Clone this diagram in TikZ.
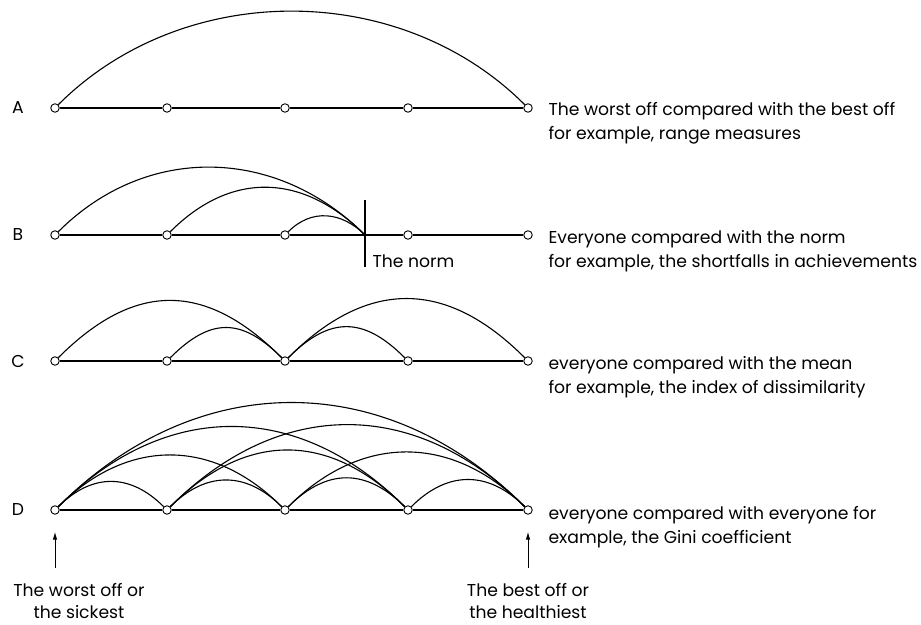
\documentclass[tikz,border=0pt]{standalone}
\usepackage{fontspec}
\setmainfont{Poppins}
\usetikzlibrary{arrows.meta}
\begin{document}
\begin{tikzpicture}[x=1pt, y=1pt, line width=1.1pt,
		pt/.style={circle, draw, fill=white, inner sep=0pt, minimum size=8.5pt, line width=0.9pt},
		hop/.style={out=45, in=135, looseness=#1},
		hop/.default=1.12,
		desc/.style={anchor=west, align=left, inner sep=0pt, font={\fontsize{17.2}{24}\selectfont}},
		tag/.style={inner sep=0pt, font={\fontsize{17.2}{22}\selectfont}},
		up/.style={-{Latex[length=8pt,width=4.5pt]}, line width=0.9pt, shorten >=17pt}]
	\useasboundingbox (0,0) rectangle (921,624);

	% A: worst off against best off
	\node[tag] (la) at (18,516) {A};
	\node[pt] (a1) at (55,516) {};
	\node[pt] (a2) at (167,516) {};
	\node[pt] (a3) at (285,516) {};
	\node[pt] (a4) at (408,516) {};
	\node[pt] (a5) at (528,516) {};
	\draw (a1) -- (a2) -- (a3) -- (a4) -- (a5);
	\draw (a1) to[hop=0.97] (a5);
	\node[desc] (ta) at (548,500.5) {The worst off compared with the best off\\for example, range measures};

	% B: everyone against the norm
	\node[tag] (lb) at (18,389) {B};
	\node[pt] (b1) at (55,389) {};
	\node[pt] (b2) at (167,389) {};
	\node[pt] (b3) at (285,389) {};
	\node[pt] (b4) at (408,389) {};
	\node[pt] (b5) at (528,389) {};
	\coordinate (norm) at (365,389);
	\coordinate (ntop) at (365,424);
	\coordinate (nbot) at (365,357);
	\draw (b1) -- (b2) -- (b3) -- (b4) -- (b5);
	\draw (ntop) -- (nbot);
	\draw (b1) to[hop=1.04] (norm);
	\draw (b2) to[hop=1.14] (norm);
	\draw (b3) to[hop=1.1] (norm);
	\node[tag, anchor=west] (tnorm) at (372,363) {The norm};
	\node[desc] (tb) at (548,372.5) {Everyone compared with the norm\\for example, the shortfalls in achievements};

	% C: everyone against the mean
	\node[tag] (lc) at (18,263) {C};
	\node[pt] (c1) at (55,263) {};
	\node[pt] (c2) at (167,263) {};
	\node[pt] (c3) at (285,263) {};
	\node[pt] (c4) at (408,263) {};
	\node[pt] (c5) at (528,263) {};
	\draw (c1) -- (c2) -- (c3) -- (c4) -- (c5);
	\draw (c1) to[hop=1.24] (c3);
	\draw (c2) to[hop=1.31] (c3);
	\draw (c3) to[hop=1.29] (c4);
	\draw (c3) to[hop=1.21] (c5);
	\node[desc] (tc) at (548,246.5) {everyone compared with the mean\\for example, the index of dissimilarity};

	% D: everyone against everyone
	\node[tag] (ld) at (18,114) {D};
	\node[pt] (d1) at (55,114) {};
	\node[pt] (d2) at (167,114) {};
	\node[pt] (d3) at (285,114) {};
	\node[pt] (d4) at (408,114) {};
	\node[pt] (d5) at (528,114) {};
	\draw (d1) -- (d2) -- (d3) -- (d4) -- (d5);
	\draw (d1) to[hop=1.16] (d2);
	\draw (d2) to[hop=1.16] (d3);
	\draw (d3) to[hop=1.2] (d4);
	\draw (d4) to[hop=1.16] (d5);
	\draw (d1) to[hop] (d3);
	\draw (d2) to[hop=1.17] (d4);
	\draw (d3) to[hop] (d5);
	\draw (d1) to[hop] (d4);
	\draw (d2) to[hop] (d5);
	\draw (d1) to[hop=1.08] (d5);
	\node[desc] (td) at (548,96.5) {everyone compared with everyone for\\example, the Gini coefficient};

	% ends of the scale
	\coordinate (wtail) at (55,56);
	\coordinate (btail) at (528,56);
	\draw[up] (wtail) -- (d1);
	\draw[up] (btail) -- (d5);
	\node[tag, align=center] (worst) at (79,22.5) {The worst off or\\the sickest};
	\node[tag, align=center] (best) at (528,22.5) {The best off or\\the healthiest};
\end{tikzpicture}
\end{document}
